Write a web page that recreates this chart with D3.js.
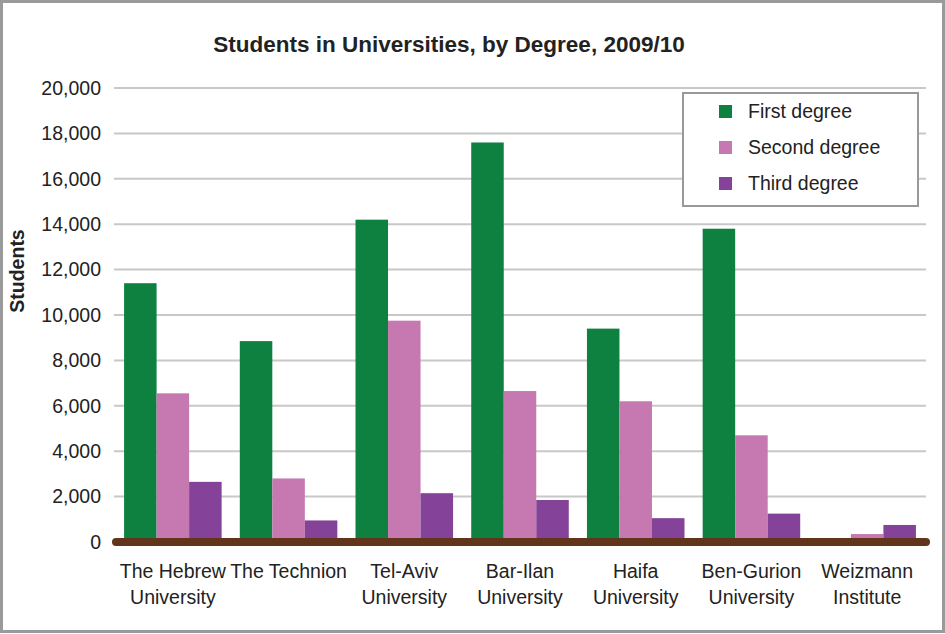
<!DOCTYPE html>
<html><head><meta charset="utf-8">
<script src="https://cdn.jsdelivr.net/npm/d3@7"></script>
<style>body{margin:0;background:#fff}svg{display:block}text{font-family:"Liberation Sans",Arial,sans-serif}</style>
</head><body>
<svg id="c" width="945" height="634"></svg>
<script>
const categories = [["The Hebrew","University"],["The Technion"],["Tel-Aviv","University"],["Bar-Ilan","University"],["Haifa","University"],["Ben-Gurion","University"],["Weizmann","Institute"]];
const seriesNames = ["First degree","Second degree","Third degree"];
const firstDegree  = [11400, 8850, 14200, 17600, 9400, 13800, 0];
const secondDegree = [6550, 2800, 9750, 6650, 6200, 4700, 350];
const thirdDegree  = [2650, 950, 2150, 1850, 1050, 1250, 750];
const yTicks = [0,2000,4000,6000,8000,10000,12000,14000,16000,18000,20000];
const colors = ["#0e8040","#c678b0","#844398"];
const series = [firstDegree, secondDegree, thirdDegree];
const FS = 19.5;

const svg = d3.select("#c");
svg.append("rect").attr("x",1.5).attr("y",1.5).attr("width",942).attr("height",630)
  .attr("fill","#fff").attr("stroke","#9a9a9a").attr("stroke-width",3);

const y = d3.scaleLinear().domain([0,20000]).range([542,88]);
const x0 = d3.scaleBand().domain(d3.range(categories.length)).range([115,925]).paddingInner(0.157).paddingOuter(0.0785);
const x1 = d3.scaleBand().domain(d3.range(3)).range([0,x0.bandwidth()]);

// gridlines
svg.append("g").selectAll("line").data(yTicks.filter(d=>d>0)).join("line")
  .attr("x1",114).attr("x2",926).attr("y1",d=>y(d)).attr("y2",d=>y(d))
  .attr("stroke","#c8c8c8").attr("stroke-width",2);

// y axis labels
const yAxis = d3.axisLeft(y).tickValues(yTicks).tickFormat(d3.format(",")).tickSize(0).tickPadding(0);
const ga = svg.append("g").attr("transform","translate(101,0)").call(yAxis);
ga.select(".domain").remove();
ga.selectAll("text").attr("font-size",FS).attr("fill","#222").attr("font-family","'Liberation Sans',Arial,sans-serif");

// bars
const groups = svg.append("g").selectAll("g").data(categories).join("g")
  .attr("transform",(d,i)=>`translate(${x0(i)},0)`);
groups.selectAll("rect").data((d,i)=>series.map((s,k)=>({k,v:s[i]}))).join("rect")
  .attr("x",d=>x1(d.k)).attr("width",x1.bandwidth())
  .attr("y",d=>y(d.v)).attr("height",d=>y(0)-y(d.v))
  .attr("fill",d=>colors[d.k]);

// baseline
svg.append("line").attr("x1",116).attr("x2",926).attr("y1",y(0)).attr("y2",y(0))
  .attr("stroke","#62341a").attr("stroke-width",8).attr("stroke-linecap","round");

// x labels
const xl = svg.append("g").selectAll("text").data(categories).join("text")
  .attr("x",(d,i)=>x0(i)+x0.bandwidth()/2).attr("y",578)
  .attr("text-anchor","middle").attr("font-size",FS).attr("fill","#222");
xl.selectAll("tspan").data(d=>d).join("tspan")
  .attr("x",function(){return this.parentNode.getAttribute("x");})
  .attr("dy",(d,j)=>j===0?0:26).text(d=>d);

// title
svg.append("text").attr("x",449).attr("y",52).attr("text-anchor","middle")
  .attr("font-size",22.5).attr("font-weight","bold").attr("fill","#222")
  .text("Students in Universities, by Degree, 2009/10");

// y title
svg.append("text").attr("transform","translate(24,271) rotate(-90)").attr("text-anchor","middle")
  .attr("font-size",19.5).attr("font-weight","bold").attr("fill","#222").text("Students");

// legend
const lg = svg.append("g");
lg.append("rect").attr("x",683).attr("y",93).attr("width",235).attr("height",113)
  .attr("fill","#fff").attr("stroke","#999").attr("stroke-width",2);
const li = lg.selectAll("g").data(seriesNames).join("g")
  .attr("transform",(d,i)=>`translate(0,${111+i*36})`);
li.append("rect").attr("x",719).attr("y",-6).attr("width",13).attr("height",13).attr("fill",(d,i)=>colors[i]);
li.append("text").attr("x",748).attr("y",7).attr("font-size",FS).attr("fill","#222").text(d=>d);
</script>
</body></html>
